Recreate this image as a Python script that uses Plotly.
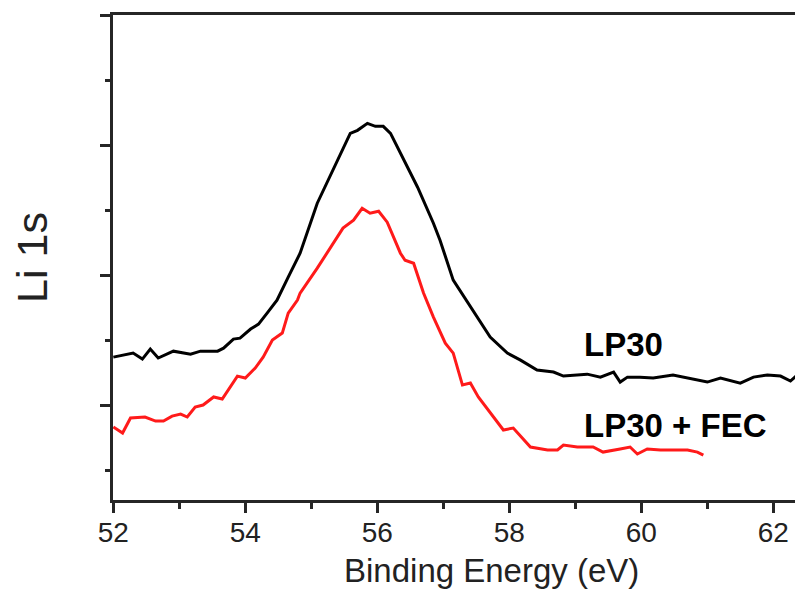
import plotly.graph_objects as go

# LP30 (black)
lp30_x = [52.00, 52.30, 52.44, 52.56, 52.68, 52.91, 53.17, 53.32, 53.58, 53.67, 53.82, 53.92,
          54.08, 54.20, 54.33, 54.48, 54.65, 54.83, 55.09, 55.33, 55.59, 55.70, 55.85, 55.97,
          56.09, 56.20, 56.35, 56.47, 56.61, 56.85, 56.95, 57.15, 57.41, 57.71, 57.97, 58.17,
          58.42, 58.67, 58.82, 59.18, 59.38, 59.58, 59.68, 59.79, 59.98, 60.18, 60.48, 60.70,
          61.00, 61.20, 61.50, 61.70, 61.91, 62.11, 62.26, 62.36]
lp30_y = [1.369, 1.400, 1.354, 1.431, 1.362, 1.415, 1.392, 1.415, 1.415, 1.438, 1.508, 1.515,
          1.585, 1.623, 1.708, 1.808, 1.985, 2.169, 2.554, 2.808, 3.092, 3.115, 3.169, 3.146,
          3.146, 3.092, 2.938, 2.808, 2.677, 2.400, 2.269, 1.962, 1.754, 1.523, 1.400, 1.346,
          1.269, 1.254, 1.223, 1.238, 1.215, 1.254, 1.177, 1.215, 1.215, 1.208, 1.231, 1.208,
          1.177, 1.208, 1.169, 1.215, 1.231, 1.223, 1.185, 1.231]

# LP30 + FEC (red)
fec_x = [52.00, 52.14, 52.26, 52.48, 52.64, 52.76, 52.89, 53.02, 53.12, 53.24, 53.36, 53.52,
         53.65, 53.88, 54.00, 54.15, 54.27, 54.41, 54.56, 54.65, 54.79, 54.83, 55.09, 55.33,
         55.48, 55.64, 55.77, 55.89, 56.02, 56.15, 56.35, 56.42, 56.55, 56.70, 56.85, 57.03,
         57.15, 57.29, 57.41, 57.53, 57.71, 57.91, 58.06, 58.32, 58.58, 58.73, 58.82, 59.03,
         59.27, 59.42, 59.68, 59.83, 59.94, 60.09, 60.29, 60.70, 60.85, 60.94]
fec_y = [0.831, 0.785, 0.900, 0.908, 0.877, 0.877, 0.915, 0.931, 0.908, 0.985, 1.000, 1.062,
         1.046, 1.223, 1.208, 1.285, 1.369, 1.500, 1.554, 1.708, 1.808, 1.862, 2.054, 2.246,
         2.362, 2.423, 2.515, 2.477, 2.492, 2.408, 2.169, 2.115, 2.092, 1.862, 1.677, 1.477,
         1.400, 1.154, 1.169, 1.062, 0.938, 0.808, 0.823, 0.677, 0.654, 0.654, 0.692, 0.677,
         0.677, 0.638, 0.662, 0.677, 0.623, 0.662, 0.654, 0.654, 0.638, 0.615]

labels = ["LP30", "LP30 + FEC"]
label_x = [59.106, 59.106]
label_y = [1.469, 0.846]

x_title = "Binding Energy (eV)"
y_title = "Li 1s"

FONT = "Arial, Liberation Sans, Helvetica, sans-serif"
AX = "#262626"

fig = go.Figure()
fig.add_trace(go.Scatter(x=lp30_x, y=lp30_y, mode="lines", name=labels[0],
                         line=dict(color="black", width=3)))
fig.add_trace(go.Scatter(x=fec_x, y=fec_y, mode="lines", name=labels[1],
                         line=dict(color="#ff1a1a", width=3)))

for t, lx, ly in zip(labels, label_x, label_y):
    fig.add_annotation(x=lx, y=ly, text="<b>%s</b>" % t, showarrow=False,
                       xanchor="left", yanchor="middle",
                       font=dict(family=FONT, size=33, color="black"))

# x-axis title (offset to the right as in the cropped original)
fig.add_annotation(x=0.548, y=-0.145, xref="paper", yref="paper", text=x_title,
                   showarrow=False, xanchor="center", yanchor="middle",
                   font=dict(family=FONT, size=33, color="#222"))

fig.update_layout(
    width=795, height=596,
    margin=dict(l=105, r=0, t=7, b=104),
    paper_bgcolor="white", plot_bgcolor="white",
    showlegend=False,
    font=dict(family=FONT, color="#222"),
)
fig.update_xaxes(
    range=[51.995, 62.45], tickmode="linear", tick0=52, dtick=2, automargin=False,
    showline=True, linecolor=AX, linewidth=2.5, mirror=True,
    ticks="outside", ticklen=10, tickwidth=2.5, tickcolor=AX,
    minor=dict(dtick=1, ticks="outside", ticklen=6, tickwidth=2.5, tickcolor=AX),
    showgrid=False, zeroline=False, ticklabelstandoff=-4,
    tickfont=dict(family=FONT, size=28, color="#222"),
)
fig.update_yaxes(
    range=[0.269, 4.003], tickmode="linear", tick0=0, dtick=1, automargin=False,
    showline=True, linecolor=AX, linewidth=2.5,
    ticks="outside", ticklen=10, tickwidth=2.5, tickcolor=AX,
    minor=dict(dtick=0.5, ticks="outside", ticklen=5, tickwidth=2.5, tickcolor=AX),
    showticklabels=False, showgrid=False, zeroline=False,
    title=dict(text=y_title, font=dict(family=FONT, size=43, color="#222"), standoff=44),
)

fig.write_html("out.html")
